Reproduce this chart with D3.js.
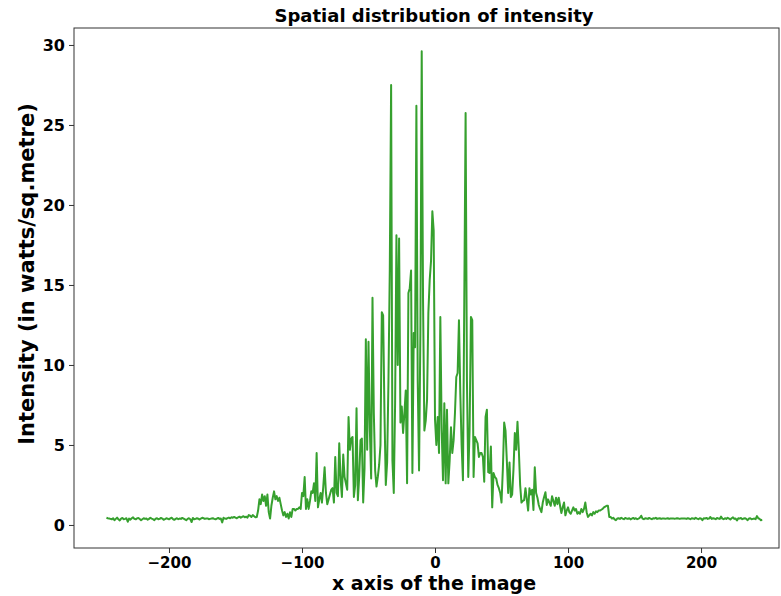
<!DOCTYPE html>
<html>
<head>
<meta charset="utf-8">
<script src="https://cdn.jsdelivr.net/npm/d3@7"></script>
<style>
  body { margin: 0; background: #fff; }
  text { font-family: "DejaVu Sans", sans-serif; font-weight: bold; }
</style>
</head>
<body>
<svg id="chart" width="781" height="596"></svg>
<script>
// intensity values, one per pixel column of the image
// left flat part, ends at x = -135
const leftFlat = [0.45,0.42,0.40,0.38,0.35,0.42,0.30,0.38,0.46,0.35,
  0.28,0.40,0.44,0.36,0.38,0.42,0.20,0.40,0.33,0.42,
  0.48,0.38,0.35,0.41,0.44,0.37,0.30,0.36,0.42,0.38,
  0.40,0.33,0.38,0.45,0.40,0.36,0.30,0.39,0.42,0.35,
  0.38,0.44,0.40,0.32,0.36,0.42,0.39,0.35,0.41,0.45,
  0.37,0.32,0.38,0.42,0.36,0.40,0.38,0.44,0.40,0.35,
  0.30,0.38,0.42,0.36,0.18,0.44,0.35,0.38,0.42,0.39,
  0.34,0.40,0.45,0.42,0.38,0.40,0.41,0.36,0.38,0.40,
  0.42,0.38,0.35,0.40,0.44,0.38,0.40,0.16,0.45,0.40,
  0.38,0.43,0.46,0.42,0.48,0.45,0.50,0.46,0.42,0.48,
  0.52,0.45,0.50,0.55,0.48,0.52,0.46,0.62,0.58,0.50,
  0.62,0.55,0.48];

// noisy middle part, starts at x = -134
const core = [0.5,0.9,1.6,1.3,1.9,1.5,1.8,1.2,1.9,0.8,
  0.4,1.2,1.7,2.1,1.6,1.8,1.5,1.7,1.3,0.9,
  0.6,0.8,0.5,0.7,0.4,0.8,0.5,1.0,1.0,0.9,
  1.0,1.0,1.1,1.0,2.0,1.8,3.0,1.0,1.6,1.0,
  1.5,2.1,2.0,2.6,1.5,4.5,1.1,1.6,2.0,1.4,
  2.4,3.6,2.0,1.3,1.6,1.9,2.2,2.3,1.4,4.25,
  2.0,1.8,5.1,2.9,1.75,4.4,3.0,2.6,2.2,6.75,
  4.7,5.4,5.5,1.75,2.5,7.3,1.55,3.0,5.3,5.4,
  1.4,3.5,11.6,4.7,11.45,6.0,2.9,14.2,7.0,3.4,
  2.4,3.0,3.75,5.0,13.3,13.1,7.0,2.5,3.9,9.0,
  16.0,27.5,4.0,2.0,7.6,18.1,10.0,17.9,6.4,7.4,
  5.75,7.0,8.4,2.6,14.5,14.8,15.9,3.25,12.0,11.1,
  26.2,9.0,3.4,12.0,29.6,14.0,5.9,6.5,7.8,13.25,
  15.3,16.5,19.6,18.4,6.6,5.0,6.75,4.5,13.0,6.0,
  2.8,7.6,2.6,7.2,2.6,4.0,6.1,4.5,5.3,7.0,
  9.25,9.5,12.8,8.25,5.0,2.8,14.0,25.75,9.0,3.0,
  6.0,13.0,12.8,3.0,5.5,5.3,5.1,4.25,4.5,4.5,
  4.25,2.7,6.75,7.2,3.3,3.25,4.9,1.1,3.25,3.0,
  2.9,2.5,2.3,2.0,1.4,3.5,6.4,5.9,4.0,2.0,
  3.9,1.75,1.9,3.5,5.75,4.7,6.45,4.7,2.5,1.4,
  1.5,1.55,2.3,1.6,0.9,2.3,1.9,2.2,0.94,3.6,
  2.0,1.7,1.25,1.0,0.8,1.4,1.75,2.05,1.25,1.6,
  1.4,1.2,1.8,1.5,1.2,1.7,1.3,1.7,1.2,0.75,
  1.1,1.4,0.6,0.9,1.1,0.8,0.7,0.9,1.1,0.9,
  1.0,0.7,0.8,0.7,1.0,0.8,1.0,1.4,0.8,0.5,
  0.6,0.7,0.6,0.8,0.7,0.85,0.8,0.9,0.9,0.95,
  1.0,1.1,1.15,1.2,1.2,0.5,0.5,0.4,0.45,0.35,
  0.3,0.4];

// right flat part, starts at x = 138
const rightFlat = [0.42,0.38,0.45,0.40,0.36,0.44,0.40,0.38,0.42,0.35,
  0.40,0.44,0.38,0.42,0.36,0.40,0.45,0.58,0.40,0.36,
  0.42,0.40,0.38,0.44,0.40,0.36,0.42,0.40,0.45,0.38,
  0.40,0.42,0.38,0.40,0.41,0.39,0.40,0.42,0.38,0.40,
  0.40,0.41,0.39,0.40,0.42,0.40,0.38,0.40,0.41,0.40,
  0.40,0.38,0.42,0.40,0.36,0.42,0.40,0.38,0.45,0.40,
  0.36,0.42,0.40,0.30,0.42,0.40,0.44,0.38,0.40,0.50,
  0.38,0.42,0.40,0.36,0.44,0.40,0.38,0.52,0.40,0.36,
  0.42,0.38,0.45,0.40,0.34,0.42,0.48,0.38,0.40,0.28,
  0.42,0.40,0.44,0.36,0.40,0.42,0.38,0.30,0.40,0.42,
  0.36,0.38,0.40,0.36,0.55,0.42,0.38,0.30,0.32];

const leftEnd = -135;
const coreStart = -134;
const rightStart = 138;

const xTicks = [-200, -100, 0, 100, 200];
const yTicks = [0, 5, 10, 15, 20, 25, 30];

const data = [];
leftFlat.forEach((v, i) => data.push([leftEnd - (leftFlat.length - 1 - i), v]));
core.forEach((v, i) => data.push([coreStart + i, v]));
rightFlat.forEach((v, i) => data.push([rightStart + i, v]));

const svg = d3.select("#chart");
const margin = { top: 28, right: 2, bottom: 48, left: 74 };
const width = 781 - margin.left - margin.right;
const height = 596 - margin.top - margin.bottom;

const g = svg.append("g").attr("transform", "translate(" + margin.left + "," + margin.top + ")");

const x = d3.scaleLinear().domain([-271.4, 258.6]).range([0, width]);
const y = d3.scaleLinear().domain([-1.44, 31.06]).range([height, 0]);

const line = d3.line()
  .x((d) => x(d[0]))
  .y((d) => y(d[1]));

g.append("path")
  .datum(data)
  .attr("fill", "none")
  .attr("stroke", "#36a02e")
  .attr("stroke-width", 2)
  .attr("stroke-linejoin", "round")
  .attr("d", line);

// frame
g.append("rect")
  .attr("width", width)
  .attr("height", height)
  .attr("fill", "none")
  .attr("stroke", "#333")
  .attr("stroke-width", 1);

const xAxis = g.append("g")
  .attr("transform", "translate(0," + height + ")")
  .call(d3.axisBottom(x).tickValues(xTicks).tickSize(5).tickPadding(4));
xAxis.select(".domain").remove();
xAxis.selectAll("text").style("font-size", "15px").attr("fill", "#000");
xAxis.selectAll("line").attr("stroke", "#333");

const yAxis = g.append("g")
  .call(d3.axisLeft(y).tickValues(yTicks).tickSize(5).tickPadding(4));
yAxis.select(".domain").remove();
yAxis.selectAll("text").style("font-size", "16px").attr("fill", "#000");
yAxis.selectAll("line").attr("stroke", "#333");

svg.append("text")
  .attr("x", 434)
  .attr("y", 22)
  .attr("text-anchor", "middle")
  .style("font-size", "18px")
  .text("Spatial distribution of intensity");

svg.append("text")
  .attr("x", 434)
  .attr("y", 590)
  .attr("text-anchor", "middle")
  .style("font-size", "19px")
  .text("x axis of the image");

svg.append("text")
  .attr("transform", "translate(34,274) rotate(-90)")
  .attr("text-anchor", "middle")
  .style("font-size", "21px")
  .text("Intensity (in watts/sq.metre)");
</script>
</body>
</html>
